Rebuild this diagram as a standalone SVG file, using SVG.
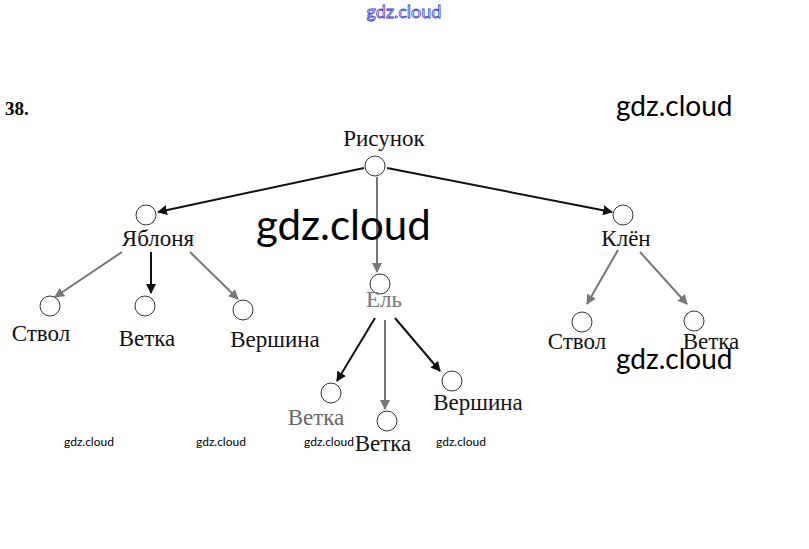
<svg xmlns="http://www.w3.org/2000/svg" width="809" height="549" viewBox="0 0 809 549">
<style>
.n{fill:#fff;stroke:#333;stroke-width:1}
.t{font-family:"Liberation Serif","Times New Roman",serif;font-size:23px;fill:#111;text-anchor:middle}
.e{fill:none;stroke:#111;stroke-width:2}
.g{fill:none;stroke:#777;stroke-width:2}
.wm{font-family:Lato,"Open Sans",sans-serif;fill:#000}
</style>
<defs>
<marker id="ab" viewBox="0 0 10 10" refX="9" refY="5" markerWidth="5" markerHeight="5" orient="auto" markerUnits="strokeWidth"><path d="M0,0L10,5L0,10z" fill="#111"/></marker>
<marker id="ag" viewBox="0 0 10 10" refX="9" refY="5" markerWidth="5" markerHeight="5" orient="auto" markerUnits="strokeWidth"><path d="M0,0L10,5L0,10z" fill="#777"/></marker>
</defs>
<rect width="809" height="549" fill="#fff"/>
<text x="404" y="18" font-family="Lato,sans-serif" font-size="18" fill="#fff" stroke="#3a3ad0" stroke-width="0.8" text-anchor="middle">gdz.cloud</text>
<text x="5" y="115" font-family="Liberation Serif,serif" font-size="19" font-weight="bold" fill="#000">38.</text>
<g id="connectors">
<line class="e" x1="364" y1="168" x2="158" y2="212" marker-end="url(#ab)"/>
<line class="e" x1="387" y1="168" x2="612" y2="212" marker-end="url(#ab)"/>
<line class="g" x1="377" y1="177" x2="377" y2="272" marker-end="url(#ag)"/>
<line class="g" x1="122" y1="252" x2="55" y2="297" marker-end="url(#ag)"/>
<line class="e" x1="151" y1="252" x2="151" y2="293" marker-end="url(#ab)"/>
<line class="g" x1="190" y1="252" x2="238" y2="299" marker-end="url(#ag)"/>
<line class="g" x1="618" y1="250" x2="587" y2="304" marker-end="url(#ag)"/>
<line class="g" x1="640" y1="252" x2="687" y2="304" marker-end="url(#ag)"/>
<line class="e" x1="375" y1="318" x2="337" y2="381" marker-end="url(#ab)"/>
<line class="g" x1="385" y1="320" x2="385" y2="409" marker-end="url(#ag)"/>
<line class="e" x1="395" y1="318" x2="440" y2="371" marker-end="url(#ab)"/>
</g>
<g id="risunok"><circle class="n" cx="375" cy="166" r="10"/><text class="t" x="384" y="146">Рисунок</text></g>
<g id="yablonya"><circle class="n" cx="146" cy="215" r="10"/><text class="t" x="158" y="246">Яблоня</text></g>
<g id="klen"><circle class="n" cx="623" cy="215" r="10"/><text class="t" x="626" y="246">Клён</text></g>
<g id="el"><circle class="n" cx="380" cy="284" r="10"/><text class="t" x="384" y="307" style="fill:#777">Ель</text></g>
<g id="ya-stvol"><circle class="n" cx="50" cy="306" r="10"/><text class="t" x="41" y="341">Ствол</text></g>
<g id="ya-vetka"><circle class="n" cx="145" cy="306" r="10"/><text class="t" x="147" y="346">Ветка</text></g>
<g id="ya-vershina"><circle class="n" cx="243" cy="310" r="10"/><text class="t" x="275" y="347">Вершина</text></g>
<g id="kl-stvol"><circle class="n" cx="582" cy="322" r="10"/><text class="t" x="577" y="349">Ствол</text></g>
<g id="kl-vetka"><circle class="n" cx="694" cy="321" r="10"/><text class="t" x="711" y="349">Ветка</text></g>
<g id="el-vetka1"><circle class="n" cx="331" cy="393" r="10"/><text class="t" x="316" y="425" style="fill:#666">Ветка</text></g>
<g id="el-vetka2"><circle class="n" cx="387" cy="421" r="10"/><text class="t" x="383" y="451">Ветка</text></g>
<g id="el-vershina"><circle class="n" cx="452" cy="381" r="10"/><text class="t" x="478" y="410">Вершина</text></g>
<text class="wm" x="616" y="116" font-size="28">gdz.cloud</text>
<text class="wm" x="256" y="240" font-size="42">gdz.cloud</text>
<text class="wm" x="616" y="369" font-size="28">gdz.cloud</text>
<text class="wm" x="64" y="446" font-size="12">gdz.cloud</text>
<text class="wm" x="196" y="446" font-size="12">gdz.cloud</text>
<text class="wm" x="304" y="446" font-size="12">gdz.cloud</text>
<text class="wm" x="436" y="446" font-size="12">gdz.cloud</text>
</svg>
